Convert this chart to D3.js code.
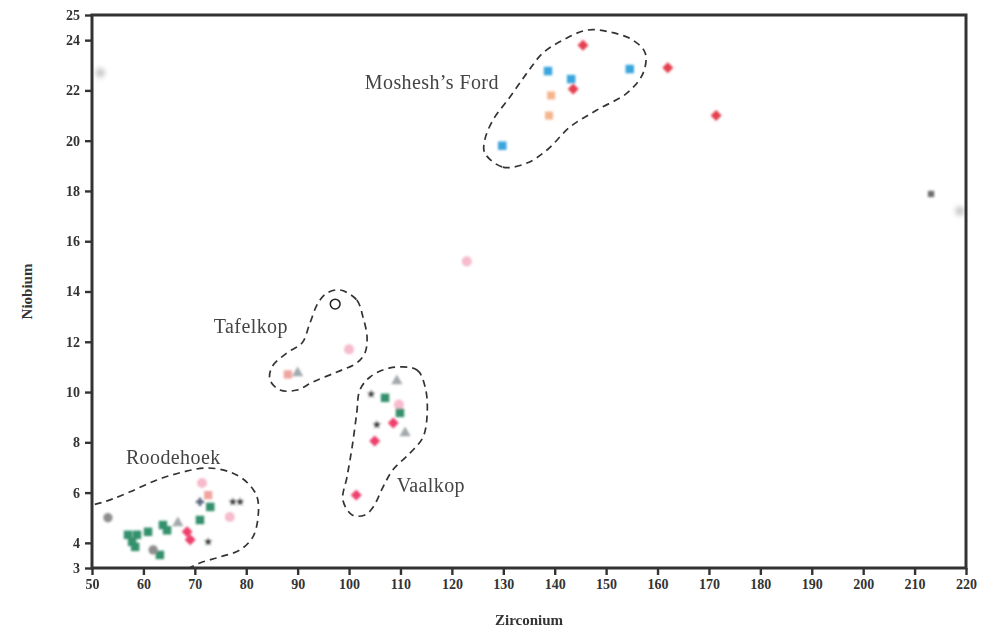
<!DOCTYPE html>
<html>
<head>
<meta charset="utf-8">
<script src="https://cdn.jsdelivr.net/npm/d3@7/dist/d3.min.js"></script>
<style>
  html, body { margin: 0; padding: 0; background: #fff; }
  svg { display: block; }
</style>
</head>
<body>
<svg id="chart" width="993" height="632"></svg>
<script>
// Zr vs Nb scatter of dolerite suites, with dashed envelopes around each group

const xTicks = [50, 60, 70, 80, 90, 100, 110, 120, 130, 140, 150, 160, 170, 180, 190, 200, 210, 220];
const yTicks = [3, 4, 6, 8, 10, 12, 14, 16, 18, 20, 22, 24, 25];

// [Zr, Nb] pairs per sample type
const blueSquares   = [[138.7, 22.77], [143.2, 22.45], [154.6, 22.85], [129.8, 19.8]];
const redDiamonds   = [[145.5, 23.8], [143.6, 22.06], [162.0, 22.9], [171.4, 21.0]];
const peachPoints   = [[139.3, 21.8], [138.9, 21.0]];
const pinkDiamonds  = [[101.4, 5.9], [108.6, 8.77], [105.0, 8.05], [68.5, 4.44], [69.1, 4.12]];
const palePink      = [[122.9, 15.2], [100.0, 11.7], [109.7, 9.5], [71.4, 6.38], [76.8, 5.03]];
const salmonPoints  = [[88.1, 10.7], [72.6, 5.9]];
const greenSquares  = [[107.0, 9.77], [109.9, 9.17], [57.0, 4.32], [58.75, 4.32], [57.8, 4.04], [58.4, 3.84],
                       [60.9, 4.44], [63.8, 4.71], [64.6, 4.5], [63.2, 3.52], [71.0, 4.91], [73.0, 5.43]];
const grayTriangles = [[90.0, 10.76], [109.3, 10.44], [110.9, 8.37], [66.7, 4.79]];
const darkStars     = [[104.3, 9.92], [105.4, 8.7], [72.6, 4.04], [77.4, 5.63], [78.8, 5.63]];
const openCircles   = [[97.3, 13.5]];
const grayCircles   = [[53.1, 5.0], [61.9, 3.72]];
const graySquares   = [[213.2, 17.88]];
const faintGray     = [[218.8, 17.2], [51.6, 22.7]];
const crosses       = [[71.0, 5.63]];

// envelope outlines, in data units
const moshesh = [[126.4, 19.51], [129.9, 18.95], [134.6, 19.11], [138.5, 19.63], [143.0, 20.55], [148.2, 21.22],
                 [154.1, 21.9], [157.2, 22.69], [157.6, 23.49], [155.2, 24.0], [150.8, 24.32], [146.3, 24.4],
                 [141.6, 24.0], [137.7, 23.49], [134.6, 22.69], [131.3, 21.74], [128.0, 20.82], [126.4, 20.03]];
const tafelkop = [[98.24, 14.06], [101.5, 13.66], [102.7, 12.99], [103.5, 12.19], [103.1, 11.56], [101.5, 11.16],
                  [97.66, 10.8], [92.99, 10.4], [89.88, 10.08], [86.57, 10.08], [84.62, 10.48], [85.01, 11.0],
                  [87.93, 11.56], [90.85, 11.95], [92.4, 12.75], [93.96, 13.54], [95.71, 13.94]];
const vaalkop = [[107.97, 10.96], [113.2, 10.88], [114.8, 10.2], [115.2, 9.17], [114.4, 8.21], [111.9, 7.58],
                 [108.5, 6.9], [106.6, 6.22], [104.7, 5.43], [103.1, 5.11], [100.6, 5.11], [98.8, 5.71],
                 [99.6, 6.62], [100.6, 7.82], [101.5, 9.17], [102.1, 10.08], [104.1, 10.6]];
const roodehoek = [[46.0, 5.3], [50.2, 5.51], [53.5, 5.71], [57.4, 6.03], [62.6, 6.5], [67.7, 6.82], [72.4, 6.98],
                   [76.8, 6.82], [80.1, 6.42], [82.1, 5.83], [82.3, 5.03], [81.3, 4.24], [78.8, 3.72],
                   [74.9, 3.44], [71.0, 3.2], [68.1, 2.92], [65.0, 2.6]];

const groupLabels = [
  { text: "Moshesh\u2019s Ford", x: 116.1, y: 22.06 },
  { text: "Tafelkop", x: 80.9, y: 12.35 },
  { text: "Roodehoek", x: 65.8, y: 7.14 },
  { text: "Vaalkop", x: 115.9, y: 6.03 }
];

const svg = d3.select("#chart");
const plotLeft = 92, plotRight = 966, plotTop = 15, plotBottom = 568;

const x = d3.scaleLinear().domain([50, 220]).range([plotLeft, plotRight]);
const y = d3.scaleLinear().domain([3, 25]).range([plotBottom, plotTop]);

const defs = svg.append("defs");
defs.append("clipPath").attr("id", "plotClip")
  .append("rect").attr("x", plotLeft).attr("y", plotTop)
  .attr("width", plotRight - plotLeft).attr("height", plotBottom - plotTop);
defs.append("filter").attr("id", "soft").attr("x", "-50%").attr("y", "-50%").attr("width", "200%").attr("height", "200%")
  .append("feGaussianBlur").attr("stdDeviation", 0.8);
defs.append("filter").attr("id", "haze").attr("x", "-100%").attr("y", "-100%").attr("width", "300%").attr("height", "300%")
  .append("feGaussianBlur").attr("stdDeviation", 2.2);

// envelopes
const plot = svg.append("g").attr("clip-path", "url(#plotClip)");
const closedLine = d3.line().x(d => x(d[0])).y(d => y(d[1])).curve(d3.curveCatmullRomClosed.alpha(0.5));
const openLine = d3.line().x(d => x(d[0])).y(d => y(d[1])).curve(d3.curveCatmullRom.alpha(0.5));
[moshesh, tafelkop, vaalkop].forEach(poly => {
  plot.append("path").attr("d", closedLine(poly))
    .attr("fill", "none").attr("stroke", "#333").attr("stroke-width", 1.7)
    .attr("stroke-dasharray", "7,5");
});
plot.append("path").attr("d", openLine(roodehoek))
  .attr("fill", "none").attr("stroke", "#333").attr("stroke-width", 1.7)
  .attr("stroke-dasharray", "7,5");

// markers (filled ones slightly softened)
const marks = svg.append("g").attr("filter", "url(#soft)");
const crisp = svg.append("g");
function drawSeries(data, type, size, fill, opts) {
  const o = opts || {};
  const sym = d3.symbol().type(type).size(size);
  const g = (o.layer || marks).append("g");
  g.selectAll("path").data(data).join("path")
    .attr("transform", d => `translate(${x(d[0])},${y(d[1])}) rotate(${o.rotate || 0})`)
    .attr("d", sym())
    .attr("fill", fill)
    .attr("stroke", o.stroke || "none")
    .attr("stroke-width", o.strokeWidth || 0);
  return g;
}
drawSeries(palePink, d3.symbolCircle, 80, "#f6bccd");
drawSeries(faintGray, d3.symbolCircle, 70, "#c9c9c9").attr("filter", "url(#haze)");
drawSeries(blueSquares, d3.symbolSquare, 72, "#3aa5dd");
drawSeries(redDiamonds, d3.symbolSquare, 60, "#e5404f", { rotate: 45 });
drawSeries(peachPoints, d3.symbolSquare, 64, "#f5b58f");
drawSeries(salmonPoints, d3.symbolSquare, 68, "#f0a4a0");
drawSeries(greenSquares, d3.symbolSquare, 72, "#34906d");
drawSeries(pinkDiamonds, d3.symbolSquare, 60, "#ee3f6c", { rotate: 45 });
drawSeries(grayTriangles, d3.symbolTriangle, 55, "#a2a9ac");
drawSeries(darkStars, d3.symbolStar, 22, "#333");
drawSeries(grayCircles, d3.symbolCircle, 68, "#8d8d8d");
drawSeries(graySquares, d3.symbolSquare, 40, "#707070");
drawSeries(crosses, d3.symbolCross, 36, "#55607a");
drawSeries(openCircles, d3.symbolCircle, 75, "none", { stroke: "#222", strokeWidth: 1.5, layer: crisp });

// group labels
svg.append("g").selectAll("text").data(groupLabels).join("text")
  .attr("x", d => x(d.x))
  .attr("y", d => y(d.y))
  .attr("text-anchor", "middle")
  .attr("font-family", "'Liberation Serif', 'DejaVu Serif', serif")
  .attr("font-size", 20)
  .attr("letter-spacing", 0.4)
  .attr("fill", "#444")
  .text(d => d.text);

// axes
const tickFont = "'Liberation Serif', 'DejaVu Serif', serif";
const yAxis = svg.append("g").attr("transform", `translate(${plotLeft},0)`)
  .call(d3.axisLeft(y).tickValues(yTicks).tickSize(7).tickPadding(5).tickFormat(d3.format("d")));
const xAxis = svg.append("g").attr("transform", `translate(0,${plotBottom})`)
  .call(d3.axisBottom(x).tickValues(xTicks).tickSize(7).tickPadding(4).tickFormat(d3.format("d")));
[yAxis, xAxis].forEach(a => {
  a.select(".domain").remove();
  a.selectAll(".tick line").attr("stroke", "#333").attr("stroke-width", 2.4);
  a.selectAll(".tick text").attr("fill", "#333").attr("font-family", tickFont)
    .attr("font-weight", "bold").attr("font-size", 14);
});

// frame
svg.append("rect").attr("x", plotLeft).attr("y", plotTop)
  .attr("width", plotRight - plotLeft).attr("height", plotBottom - plotTop)
  .attr("fill", "none").attr("stroke", "#333").attr("stroke-width", 3);

// axis titles
svg.append("text").attr("x", (plotLeft + plotRight) / 2).attr("y", 625)
  .attr("text-anchor", "middle").attr("font-family", tickFont).attr("font-weight", "bold")
  .attr("font-size", 15).attr("fill", "#333").text("Zirconium");
svg.append("text").attr("transform", `translate(32,${(plotTop + plotBottom) / 2}) rotate(-90)`)
  .attr("text-anchor", "middle").attr("font-family", tickFont).attr("font-weight", "bold")
  .attr("font-size", 15).attr("fill", "#333").text("Niobium");
</script>
</body>
</html>
